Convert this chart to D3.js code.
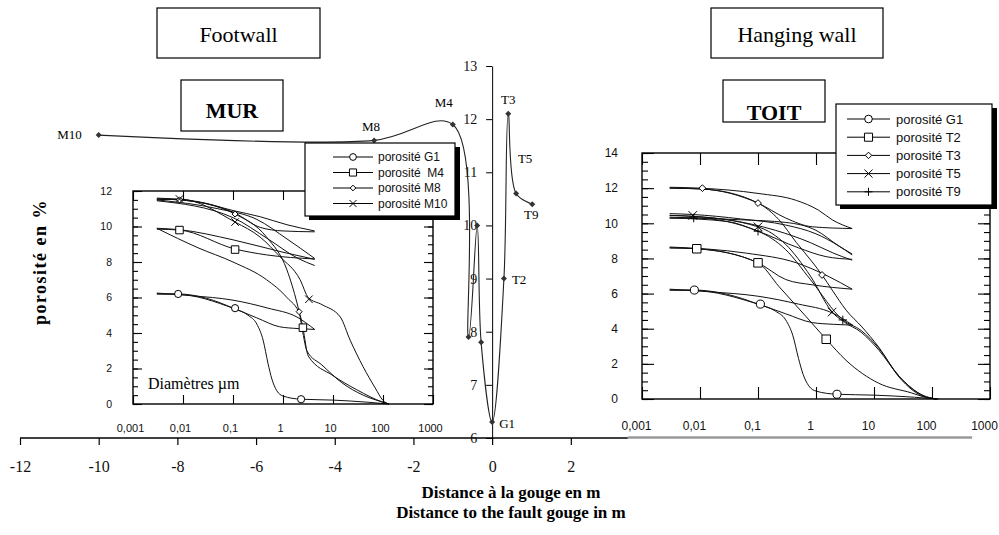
<!DOCTYPE html>
<html>
<head>
<meta charset="utf-8">
<script src="https://cdn.jsdelivr.net/npm/d3@7"></script>
<style>
  body { margin: 0; background: #fff; }
  svg { display: block; }
</style>
</head>
<body>
<div id="vis"></div>
<script>
// profile across the fault: distance to the gouge (m) vs porosity (%)
var sampleNames = ['M10', 'M8', 'M4', '', '', '', 'G1', 'T2', 'T3', 'T5', 'T9']
var sampleDist = [-10, -3, -1, -0.6, -0.38, -0.28, 0, 0.3, 0.41, 0.61, 1.02]
var samplePoro = [11.7, 11.6, 11.9, 7.9, 10.0, 7.8, 6.3, 9.0, 12.1, 10.6, 10.4]
var distTicks = [-12, -10, -8, -6, -4, -2, 0, 2]
var poroTicks = [6, 7, 8, 9, 10, 11, 12, 13]

// porosimetry: pore diameter (um) vs cumulative porosity (%)
var diamTicks = [0.001, 0.01, 0.1, 1, 10, 100, 1000]
var diamLabels = ['0,001', '0,01', '0,1', '1', '10', '100', '1000']

// G1 (gouge) - shown in both insets
var g1ExtA = [[0.003,6.25],[0.015,6.1],[0.1,5.85],[0.5,5.4],[1.9,4.9],[4.3,4.2]]
var g1ExtB = [[0.003,6.2],[0.008,6.18],[0.1,5.4],[0.3,4.85],[0.86,4.35],[2,4.25],[4.3,4.2]]
var g1Intr = [[0.003,6.2],[0.008,6.2],[0.03,5.95],[0.1,5.4],[0.2,5.0],[0.3,4.5],[0.4,3.6],[0.5,2.3],[0.6,1.4],[0.75,0.75],[1,0.45],[2.3,0.27],[10,0.22],[50,0.1],[130,0]]
var g1Marks = [[0.008,6.2],[0.11,5.4],[2.3,0.27]]

// footwall (MUR)
var m4ExtA = [[0.003,9.9],[0.0085,9.82],[0.1,9.25],[1,8.55],[4.3,8.15]]
var m4ExtB = [[0.003,9.85],[0.0085,9.8],[0.11,8.73],[0.47,8.4],[4.3,8.17]]
var m4Intr = [[0.003,9.9],[0.02,8.8],[0.1,8.0],[0.47,7.0],[1.2,6.0],[2.2,5.0],[2.5,4.3],[3.2,2.7],[10,1.6],[30,0.8],[100,0.1],[130,0]]
var m4Marks = [[0.0085,9.8],[0.11,8.7],[2.5,4.3]]

var m8ExtA = [[0.003,11.6],[0.02,11.4],[0.1,10.9],[0.35,10.55],[1.2,10.1],[4.3,9.75]]
var m8ExtB = [[0.003,11.55],[0.0085,11.5],[0.11,10.75],[0.35,9.95],[1,9.75],[4.3,9.7]]
var m8Intr = [[0.003,11.55],[0.0085,11.5],[0.11,10.7],[0.47,9.4],[1.2,7.55],[1.9,5.7],[2.1,5.2],[2.5,4.0],[3,3.0],[6,2.2],[15,1.2],[40,0.5],[100,0.1],[130,0]]
var m8Marks = [[0.0085,11.5],[0.11,10.7],[2.1,5.2]]

var m10ExtA = [[0.003,11.5],[0.05,11.0],[0.3,10.4],[1.2,9.3],[4.3,8.2]]
var m10ExtB = [[0.003,11.45],[0.1,10.5],[0.5,9.3],[2,8.2],[4.3,7.8]]
var m10Intr = [[0.003,11.5],[0.0085,11.55],[0.11,10.25],[0.35,9.4],[0.87,8.3],[2.2,7.0],[3.2,6.0],[6,5.6],[14,4.9],[22,3.6],[40,2.1],[70,0.9],[100,0.2],[130,0]]
var m10Marks = [[0.0085,11.55],[0.11,10.25],[3.3,5.9]]

// hanging wall (TOIT)
var t2ExtA = [[0.003,8.65],[0.063,8.3],[0.46,7.75],[1.7,6.95],[4.2,6.25]]
var t2ExtB = [[0.003,8.6],[0.0088,8.55],[0.1,7.75],[0.3,6.8],[0.86,6.5],[4.2,6.25]]
var t2Intr = [[0.003,8.6],[0.0088,8.55],[0.1,7.75],[0.23,6.4],[0.67,4.7],[1.5,3.4],[3.3,2.2],[12,0.9],[44,0.35],[77,0.1],[120,0]]
var t2Marks = [[0.0088,8.55],[0.1,7.75],[1.5,3.4]]

var t3ExtA = [[0.003,12.05],[0.01,12.0],[0.1,11.7],[0.46,11.3],[1.1,10.75],[1.9,10.2],[4.2,9.7]]
var t3ExtB = [[0.003,12.0],[0.011,11.95],[0.1,11.15],[0.3,10.3],[0.86,9.8],[4.2,9.7]]
var t3Intr = [[0.003,12.0],[0.011,11.95],[0.1,11.15],[0.23,10.2],[0.46,8.9],[0.86,7.8],[1.27,7.06],[1.9,6.2],[3.3,5.06],[6.2,4.1],[12,2.96],[27,1.25],[77,0.1],[120,0]]
var t3Marks = [[0.011,12.0],[0.1,11.15],[1.27,7.06]]

var t5ExtA = [[0.003,10.55],[0.0075,10.5],[0.05,10.25],[0.3,9.9],[1,9.4],[2.5,8.7],[4.2,8.2]]
var t5ExtB = [[0.003,10.45],[0.03,10.2],[0.2,9.6],[0.8,8.9],[2,8.3],[4.2,7.9]]
var t5Intr = [[0.003,10.45],[0.0075,10.4],[0.1,9.8],[0.3,8.8],[0.8,7.0],[1.9,4.95],[3,4.4],[6,3.8],[12,2.8],[27,1.3],[70,0.2],[120,0]]
var t5Marks = [[0.0075,10.45],[0.1,9.8],[1.9,4.95]]

var t9ExtA = [[0.003,10.35],[0.05,10.2],[0.3,10.05],[1,9.6],[2.5,8.7],[4.2,8.25]]
var t9ExtB = [[0.003,10.3],[0.03,10.1],[0.1,9.55],[0.5,8.6],[1.5,8.1],[4.2,7.95]]
var t9Intr = [[0.003,10.3],[0.0078,10.3],[0.1,9.55],[0.3,8.5],[0.8,6.8],[2.9,4.5],[6,3.9],[12,2.9],[27,1.3],[70,0.2],[120,0]]
var t9Marks = [[0.0078,10.3],[0.1,9.55],[2.9,4.5]]

var murSeries = [
  {name: 'porosité G1', sym: 'circle', curves: [g1ExtA, g1ExtB, g1Intr], marks: g1Marks},
  {name: 'porosité  M4', sym: 'square', curves: [m4ExtA, m4ExtB, m4Intr], marks: m4Marks},
  {name: 'porosité M8', sym: 'diamond', curves: [m8ExtA, m8ExtB, m8Intr], marks: m8Marks},
  {name: 'porosité M10', sym: 'times', curves: [m10ExtA, m10ExtB, m10Intr], marks: m10Marks}
]
var toitSeries = [
  {name: 'porosité G1', sym: 'circle', curves: [g1ExtA, g1ExtB, g1Intr], marks: g1Marks},
  {name: 'porosité T2', sym: 'square', curves: [t2ExtA, t2ExtB, t2Intr], marks: t2Marks},
  {name: 'porosité T3', sym: 'diamond', curves: [t3ExtA, t3ExtB, t3Intr], marks: t3Marks},
  {name: 'porosité T5', sym: 'times', curves: [t5ExtA, t5ExtB, t5Intr], marks: t5Marks},
  {name: 'porosité T9', sym: 'plus', curves: [t9ExtA, t9ExtB, t9Intr], marks: t9Marks}
]

// Display constants
var viewWidth = 999
var viewHeight = 535
var serif = '"Liberation Serif", "Times New Roman", serif'
var sans = '"Liberation Sans", Arial, sans-serif'

// label placement for the profile points: dx, dy, anchor
var labelPos = {
  M10: [-17, 4, 'end'], M8: [-3, -9, 'middle'], M4: [-9, -17, 'middle'],
  G1: [7, 6, 'start'], T2: [8, 5, 'start'], T3: [0, -10, 'middle'],
  T5: [9, -31, 'middle'], T9: [-1, 15, 'middle']
}

var svg = d3.select('#vis').append('svg')
  .attr('width', viewWidth)
  .attr('height', viewHeight)
  .style('font-family', serif)

// custom marker shapes (size = box width squared)
var symTypes = {
  circle: {draw: function(c, s) { var r = Math.sqrt(s) / 2; c.moveTo(r, 0); c.arc(0, 0, r, 0, 2 * Math.PI) }},
  square: {draw: function(c, s) { var r = Math.sqrt(s) / 2; c.rect(-r, -r, 2 * r, 2 * r) }},
  diamond: {draw: function(c, s) { var r = Math.sqrt(s) / 2; c.moveTo(0, -r); c.lineTo(r, 0); c.lineTo(0, r); c.lineTo(-r, 0); c.closePath() }},
  times: {draw: function(c, s) { var r = Math.sqrt(s) / 2; c.moveTo(-r, -r); c.lineTo(r, r); c.moveTo(r, -r); c.lineTo(-r, r) }},
  plus: {draw: function(c, s) { var r = Math.sqrt(s) / 2; c.moveTo(-r, 0); c.lineTo(r, 0); c.moveTo(0, -r); c.lineTo(0, r) }}
}

// ---------------- main profile ----------------
var xDist = d3.scaleLinear().domain([-12, 12.4]).range([20, 980])
var yPoro = d3.scaleLinear().domain([6, 13]).range([438, 66])

var xAxisG = svg.append('g')
  .attr('transform', 'translate(0,438)')
  .call(d3.axisBottom(xDist).tickValues(distTicks).tickSize(7).tickPadding(16)
    .tickFormat(function(d) { return String(d) }))
xAxisG.select('.domain').remove()
xAxisG.selectAll('line').attr('stroke-width', 1.2)
xAxisG.selectAll('text').style('font-family', serif).style('font-size', '16px').attr('fill', '#111')

svg.append('line')
  .attr('x1', xDist(-12)).attr('x2', xDist(3.45))
  .attr('y1', 438).attr('y2', 438)
  .attr('stroke', '#000').attr('stroke-width', 1.3)
svg.append('line')
  .attr('x1', xDist(3.45)).attr('x2', xDist(12.2))
  .attr('y1', 437.5).attr('y2', 437.5)
  .attr('stroke', '#9a9a9a').attr('stroke-width', 2.5)

var yAxisG = svg.append('g')
  .attr('transform', 'translate(' + xDist(0) + ',0)')
  .call(d3.axisLeft(yPoro).tickValues(poroTicks).tickSize(6).tickSizeOuter(0).tickPadding(9)
    .tickFormat(d3.format('d')))
yAxisG.selectAll('text').style('font-family', serif).style('font-size', '14px').attr('fill', '#111')

var profile = d3.range(sampleDist.length).map(function(i) {
  return {name: sampleNames[i], x: sampleDist[i], y: samplePoro[i]}
})
var profileLine = d3.line()
  .x(function(d) { return xDist(d.x) })
  .y(function(d) { return yPoro(d.y) })
  .curve(d3.curveCatmullRom.alpha(0.5))

svg.append('path')
  .attr('d', profileLine(profile))
  .attr('fill', 'none').attr('stroke', '#222').attr('stroke-width', 1.1)

svg.selectAll('.pt').data(profile).enter().append('path')
  .attr('class', 'pt')
  .attr('transform', function(d) { return 'translate(' + xDist(d.x) + ',' + yPoro(d.y) + ')' })
  .attr('d', d3.symbol().type(symTypes.diamond).size(36))
  .attr('fill', '#333')

svg.selectAll('.ptlabel').data(profile.filter(function(d) { return d.name })).enter().append('text')
  .attr('x', function(d) { return xDist(d.x) + labelPos[d.name][0] })
  .attr('y', function(d) { return yPoro(d.y) + labelPos[d.name][1] })
  .attr('text-anchor', function(d) { return labelPos[d.name][2] })
  .style('font-family', serif).style('font-size', '13px')
  .text(function(d) { return d.name })

// ---------------- porosimetry insets ----------------
var panels = [
  {x0: 133, x1: 433, y0: 191, y1: 404, ymax: 12, labelY: 428, labelDx: -3, xFont: 11, yFont: 10.5, yLabelGap: 21,
    tickMaj: 9, tickMin: 5, markSize: 7.5, series: murSeries,
    legend: {x: 305, y: 143, w: 150, h: 73, row0: 14, gap: 15.5, lx0: 28, lx1: 68, tx: 73, font: 12}},
  {x0: 642, x1: 990, y0: 153, y1: 399, ymax: 14, labelY: 426, labelDx: -6, xFont: 12, yFont: 12, yLabelGap: 24,
    tickMaj: 12, tickMin: 6, markSize: 8.5, series: toitSeries,
    legend: {x: 836, y: 104, w: 156, h: 101, row0: 15, gap: 18.2, lx0: 11, lx1: 54, tx: 60, font: 13}}
]

function markerSize(sym, base) {
  if (sym === 'diamond') return (base * 0.8) * (base * 0.8)
  if (sym === 'circle') return (base * 0.95) * (base * 0.95)
  return base * base
}

function drawMarker(g, sym, base, x, y) {
  g.append('path')
    .attr('transform', 'translate(' + x + ',' + y + ')')
    .attr('d', d3.symbol().type(symTypes[sym]).size(markerSize(sym, base)))
    .attr('fill', (sym === 'times' || sym === 'plus') ? 'none' : '#fff')
    .attr('stroke', '#000').attr('stroke-width', 1)
}

function cleanAxis(sel) {
  sel.select('.domain').remove()
  sel.selectAll('line').attr('stroke', '#000').attr('stroke-width', 1.1)
}

function drawPanel(p) {
  var xs = d3.scaleLog().domain([0.001, 1000]).range([p.x0, p.x1])
  var ys = d3.scaleLinear().domain([0, p.ymax]).range([p.y1, p.y0])
  var g = svg.append('g')

  var line = d3.line()
    .x(function(d) { return xs(d[0]) })
    .y(function(d) { return ys(d[1]) })
    .curve(d3.curveMonotoneX)

  p.series.forEach(function(s) {
    s.curves.forEach(function(c) {
      g.append('path').attr('d', line(c))
        .attr('fill', 'none').attr('stroke', '#111').attr('stroke-width', 1)
    })
  })
  p.series.forEach(function(s) {
    s.marks.forEach(function(m) { drawMarker(g, s.sym, p.markSize, xs(m[0]), ys(m[1])) })
  })

  g.append('rect')
    .attr('x', p.x0).attr('y', p.y0)
    .attr('width', p.x1 - p.x0).attr('height', p.y1 - p.y0)
    .attr('fill', 'none').attr('stroke', '#000').attr('stroke-width', 1.4)

  var minor = d3.range(0, p.ymax + 0.01, 0.5)
  var major = d3.range(0, p.ymax + 0.01, 2)

  // inward ticks on all four sides
  g.append('g').attr('transform', 'translate(' + p.x0 + ',0)')
    .call(d3.axisLeft(ys).tickValues(minor).tickSize(-p.tickMin).tickFormat('')).call(cleanAxis)
  g.append('g').attr('transform', 'translate(' + p.x0 + ',0)')
    .call(d3.axisLeft(ys).tickValues(major).tickSize(-p.tickMaj).tickFormat('')).call(cleanAxis)
  g.append('g').attr('transform', 'translate(' + p.x1 + ',0)')
    .call(d3.axisRight(ys).tickValues(minor).tickSize(-p.tickMin).tickFormat('')).call(cleanAxis)
  g.append('g').attr('transform', 'translate(' + p.x1 + ',0)')
    .call(d3.axisRight(ys).tickValues(major).tickSize(-p.tickMaj).tickFormat('')).call(cleanAxis)
  g.append('g').attr('transform', 'translate(0,' + p.y1 + ')')
    .call(d3.axisBottom(xs).tickValues(diamTicks).tickSize(-p.tickMaj).tickFormat('')).call(cleanAxis)
  g.append('g').attr('transform', 'translate(0,' + p.y0 + ')')
    .call(d3.axisTop(xs).tickValues(diamTicks).tickSize(-p.tickMaj).tickFormat('')).call(cleanAxis)

  // tick labels
  var yl = g.append('g').attr('transform', 'translate(' + p.x0 + ',0)')
    .call(d3.axisLeft(ys).tickValues(major).tickSize(0).tickPadding(p.yLabelGap).tickFormat(d3.format('d')))
  yl.select('.domain').remove()
  yl.selectAll('text').style('font-family', sans).style('font-size', p.yFont + 'px').attr('fill', '#111')

  var xl = g.append('g').attr('transform', 'translate(' + p.labelDx + ',' + p.labelY + ')')
    .call(d3.axisBottom(xs).tickValues(diamTicks).tickSize(0).tickPadding(0)
      .tickFormat(function(d, i) { return diamLabels[i] }))
  xl.select('.domain').remove()
  xl.selectAll('text').attr('y', 0).attr('dy', '0.35em')
    .style('font-family', sans).style('font-size', p.xFont + 'px').attr('fill', '#111')

  // legend with drop shadow
  var L = p.legend
  var lg = svg.append('g').attr('transform', 'translate(' + L.x + ',' + L.y + ')')
  lg.append('rect').attr('x', 4).attr('y', 4).attr('width', L.w + 1).attr('height', L.h).attr('fill', '#000')
  lg.append('rect').attr('width', L.w).attr('height', L.h)
    .attr('fill', '#fff').attr('stroke', '#000').attr('stroke-width', 1.2)
  p.series.forEach(function(s, i) {
    var yy = L.row0 + i * L.gap
    lg.append('line').attr('x1', L.lx0).attr('x2', L.lx1).attr('y1', yy).attr('y2', yy)
      .attr('stroke', '#000').attr('stroke-width', 1)
    drawMarker(lg, s.sym, p.markSize * 0.95, (L.lx0 + L.lx1) / 2, yy)
    lg.append('text').attr('x', L.tx).attr('y', yy).attr('dy', '0.35em')
      .style('font-family', sans).style('font-size', L.font + 'px').attr('fill', '#111')
      .style('white-space', 'pre')
      .text(s.name)
  })
}

panels.forEach(drawPanel)

svg.append('text')
  .attr('x', 148).attr('y', 389)
  .style('font-family', serif).style('font-size', '16px')
  .text('Diamètres µm')

// ---------------- title boxes ----------------
var boxes = [
  {x: 157, y: 8, w: 163, h: 50, text: 'Footwall', ty: 42, bold: false},
  {x: 181, y: 80, w: 102, h: 51, text: 'MUR', ty: 118, bold: true},
  {x: 711, y: 8, w: 172, h: 50, text: 'Hanging wall', ty: 42, bold: false},
  {x: 723, y: 80, w: 102, h: 42, text: 'TOIT', ty: 120, bold: true}
]
boxes.forEach(function(b) {
  svg.append('rect').attr('x', b.x).attr('y', b.y).attr('width', b.w).attr('height', b.h)
    .attr('fill', '#fff').attr('stroke', '#000').attr('stroke-width', 1.2)
  svg.append('text').attr('x', b.x + b.w / 2).attr('y', b.ty)
    .attr('text-anchor', 'middle')
    .style('font-family', serif)
    .style('font-size', '22px').style('font-weight', b.bold ? 'bold' : 'normal')
    .text(b.text)
})

// ---------------- axis titles ----------------
svg.append('text')
  .attr('transform', 'translate(46,262) rotate(-90)')
  .attr('text-anchor', 'middle')
  .style('font-family', serif)
  .style('font-size', '18px').style('font-weight', 'bold').style('letter-spacing', '1.5px')
  .text('porosité en %')

svg.append('text').attr('x', 511).attr('y', 498).attr('text-anchor', 'middle')
  .style('font-family', serif).style('font-size', '17px').style('font-weight', 'bold')
  .text('Distance à la gouge en m')
svg.append('text').attr('x', 511).attr('y', 518).attr('text-anchor', 'middle')
  .style('font-family', serif).style('font-size', '17px').style('font-weight', 'bold')
  .text('Distance to the fault gouge in m')
</script>
</body>
</html>
